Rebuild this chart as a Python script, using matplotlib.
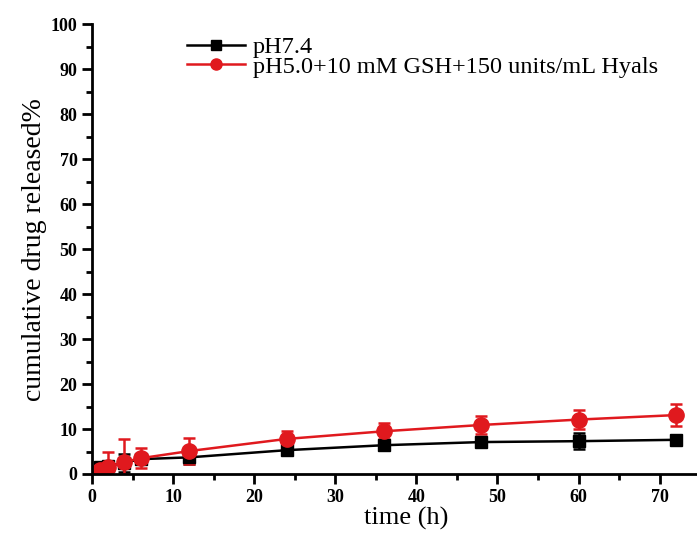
import numpy as np
import matplotlib.pyplot as plt
from matplotlib.lines import Line2D
from matplotlib.ticker import MultipleLocator

plt.rcParams['font.family'] = ['Liberation Serif', 'DejaVu Serif']

# Release data
time_h = [0.5, 1, 2, 4, 6, 12, 24, 36, 48, 60, 72]
ph74 = [0.5, 1.5, 1.8, 2.5, 3.3, 3.7, 5.3, 6.4, 7.1, 7.3, 7.6]
ph74_err = [0.5, 1.0, 1.2, 2.0, 1.0, 1.5, 0.8, 0.7, 0.8, 1.8, 1.0]
ph50 = [0.3, 0.8, 1.5, 2.7, 3.5, 5.1, 7.8, 9.5, 10.9, 12.1, 13.1]
ph50_err = [0.5, 1.5, 3.5, 5.1, 2.2, 2.9, 1.8, 1.8, 2.0, 2.1, 2.4]
labels = ['pH7.4', 'pH5.0+10 mM GSH+150 units/mL Hyals']
red = '#e0191e'

fig = plt.figure(figsize=(6.97, 5.39), dpi=100)
ax = fig.add_axes([0.132, 0.1206, 0.868, 0.8344])

ax.errorbar(time_h, ph74, yerr=ph74_err, color='black', marker='s', markersize=8,
            linewidth=1.8, capsize=4.5, elinewidth=1.8, capthick=1.8)
ax.errorbar(time_h, ph50, yerr=ph50_err, color=red, marker='o', markersize=11,
            linewidth=1.8, capsize=4.5, elinewidth=1.8, capthick=1.8)

ax.set_xlim(0, 74.6)
ax.set_ylim(0, 100)
ax.xaxis.set_major_locator(MultipleLocator(10))
ax.xaxis.set_minor_locator(MultipleLocator(5))
ax.yaxis.set_major_locator(MultipleLocator(10))
ax.yaxis.set_minor_locator(MultipleLocator(5))
ax.tick_params(which='major', length=7, width=2, direction='out')
ax.tick_params(which='minor', length=4, width=2, direction='out')
for lbl in ax.get_xticklabels() + ax.get_yticklabels():
    lbl.set_fontweight('bold')
    lbl.set_fontsize(13)

ax.spines['top'].set_visible(False)
ax.spines['right'].set_visible(False)
ax.spines['left'].set_linewidth(2)
ax.spines['bottom'].set_linewidth(2)

ax.set_xlabel('time (h)', fontsize=19, labelpad=1, x=0.52)
ax.set_ylabel('cumulative drug released%', fontsize=20, labelpad=3)

handles = [Line2D([], [], color='black', marker='s', markersize=7, linewidth=1.8),
           Line2D([], [], color=red, marker='o', markersize=8, linewidth=1.8)]
ax.legend(handles, labels, loc='upper left', bbox_to_anchor=(0.137, 1.0), frameon=False,
          fontsize=17.5, handlelength=2.4, handletextpad=0.3, labelspacing=-0.1,
          borderaxespad=0.1)

fig.savefig('out.png', dpi=100)
